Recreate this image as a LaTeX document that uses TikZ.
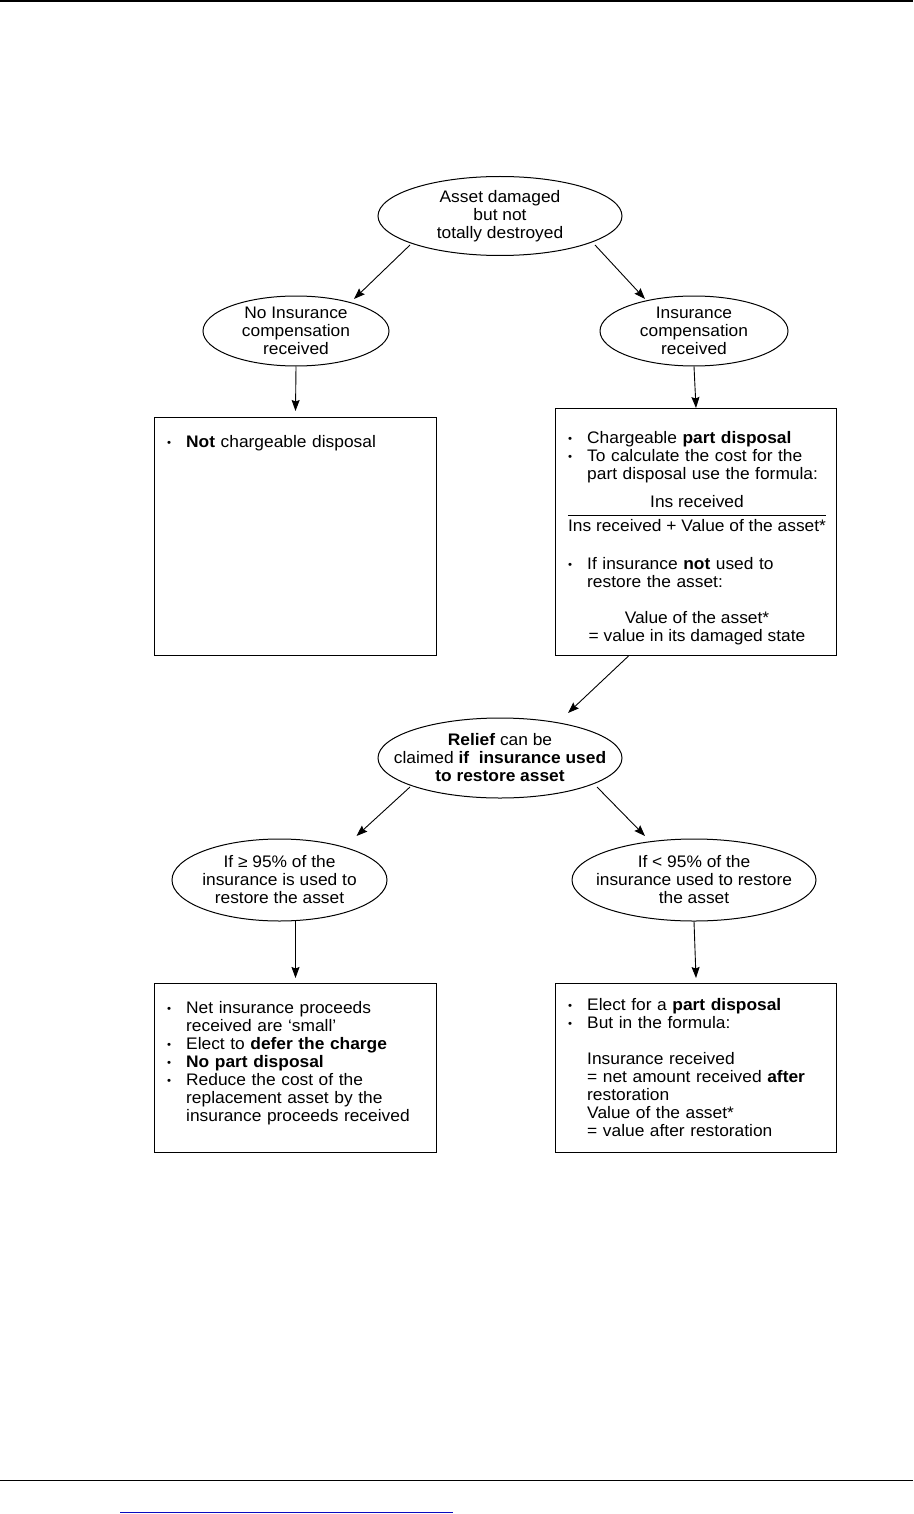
\documentclass[tikz,border=0pt]{standalone}
\usepackage{fontspec}
\setmainfont{Liberation Sans}[FakeStretch=1.04]
\usetikzlibrary{shapes.geometric,arrows.meta}
\newcommand\itm[1]{\par\hangindent=19pt\hangafter=1\noindent\makebox[19pt][l]{\raisebox{1.2pt}{\fontsize{11}{11}\selectfont •}}#1\par}
\begin{document}
\begin{tikzpicture}[x=1pt,y=-1pt, font=\fontsize{16.7}{18}\selectfont,
 ell/.style={draw, ellipse, inner sep=0pt, line width=1pt},
 etxt/.style={inner sep=0pt, align=center},
 box/.style={draw, rectangle, line width=1pt, inner sep=0pt, anchor=north west},
 txt/.style={anchor=north west, inner sep=0pt, align=left},
 arr/.style={-{Stealth[length=11pt,width=8pt,inset=1.5pt]}, line width=0.9pt},
 rule/.style={line width=1.5pt}]
\useasboundingbox (0,0) rectangle (913,1514);
% page rules
\coordinate (tl) at (0,1); \coordinate (tr) at (913,1);
\draw[rule] (tl) -- (tr);
\coordinate (bl) at (0,1480.5); \coordinate (br) at (913,1480.5);
\draw[rule] (bl) -- (br);
\coordinate (ul) at (120,1512.5); \coordinate (ur) at (453,1512.5);
\draw[line width=1.5pt, color={rgb,255:red,10;green,10;blue,190}] (ul) -- (ur);

% ellipses
\node[ell, minimum width=244, minimum height=79] (e1) at (500,216) {};
\node[etxt] (e1t) at (e1.center) {Asset damaged\\but not\\totally destroyed};
\node[ell, minimum width=186, minimum height=70] (eL) at (296,331) {};
\node[etxt] (eLt) at (eL.center) {No Insurance\\compensation\\received};
\node[ell, minimum width=188, minimum height=70] (eR) at (694,331) {};
\node[etxt] (eRt) at (eR.center) {Insurance\\compensation\\received};
\node[ell, minimum width=244, minimum height=80] (e5) at (500,758) {};
\node[etxt] (e5t) at (e5.center) {\textbf{Relief} can be\\claimed \textbf{if\ \ insurance used}\\\textbf{to restore asset}};
\node[ell, minimum width=215, minimum height=82] (e6) at (279.5,880) {};
\node[etxt] (e6t) at (e6.center) {If ≥ 95\% of the\\insurance is used to\\restore the asset};
\node[ell, minimum width=244, minimum height=82] (e7) at (694,880) {};
\node[etxt] (e7t) at (e7.center) {If < 95\% of the\\insurance used to restore\\the asset};

% boxes
\node[box, minimum width=282, minimum height=238] (b1) at (154,417) {};
\node[box, minimum width=281, minimum height=247] (b2) at (555,408) {};
\node[box, minimum width=282, minimum height=169] (b3) at (154,983) {};
\node[box, minimum width=281, minimum height=169] (b4) at (555,983) {};

% box texts
\node[txt, text width=262] (t1) at (167,429) {\itm{\textbf{Not} chargeable disposal}};
\node[txt, text width=264] (t2a) at (568,425) {\itm{Chargeable \textbf{part disposal}}\itm{To calculate the cost for the\newline part disposal use the formula:}};
\node[inner sep=0pt] (num) at (697,502) {Ins received};
\node[inner sep=0pt] (den) at (697,526) {Ins received + Value of the asset*};
\draw[line width=0.9pt] ([yshift=4pt]den.north west) -- ([yshift=4pt]den.north east);
\node[txt, text width=264] (t2b) at (568,551) {\itm{If insurance \textbf{not} used to\newline restore the asset:}};
\node[inner sep=0pt, align=center] (t2c) at (697,628) {Value of the asset*\\= value in its damaged state};
\node[txt, text width=264] (t3) at (167,995) {\itm{Net insurance proceeds\newline received are ‘small’}\itm{Elect to \textbf{defer the charge}}\itm{\textbf{No part disposal}}\itm{Reduce the cost of the\newline replacement asset by the\newline insurance proceeds received}};
\node[txt, text width=264] (t4) at (568,992) {\itm{Elect for a \textbf{part disposal}}\itm{But in the formula:}\vspace{18pt}\leftskip=19pt\noindent Insurance received\newline = net amount received \textbf{after}\newline restoration\newline Value of the asset*\newline = value after restoration\par};

% connectors
\draw[arr] ([shift={(-90,29)}]e1.center) -- ([shift={(58,-32)}]eL.center);
\draw[arr] ([shift={(95,29)}]e1.center) -- ([shift={(-49,-32)}]eR.center);
\draw[arr] (eL.south) -- ([shift={(0,-6)}]b1.north);
\draw[arr] (eR.south) -- (b2.north);
\draw[arr] ([shift={(-67.5,0)}]b2.south) -- ([shift={(68,-45)}]e5.center);
\draw[arr] ([shift={(-90,29)}]e5.center) -- ([shift={(77,-44)}]e6.center);
\draw[arr] ([shift={(97,29)}]e5.center) -- ([shift={(-49,-44)}]e7.center);
\draw[arr] ([shift={(16,41)}]e6.center) -- ([shift={(0,-5)}]b3.north);
\draw[arr] (e7.south) -- ([shift={(0,-5)}]b4.north);
\end{tikzpicture}
\end{document}
